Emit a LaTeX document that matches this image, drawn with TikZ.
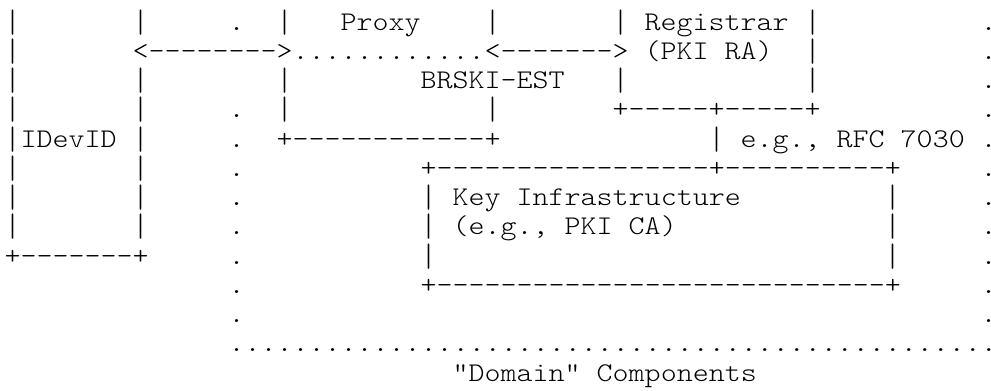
\documentclass[tikz,border=0pt]{standalone}
\usepackage{graphicx}
\usepackage{fontspec}
\setmonofont{lmmonolt10-regular.otf}[FakeStretch=1.129]

\newcommand{\vbar}{\raisebox{-1pt}{\scalebox{1}[1.2]{|}}}

\begin{document}
\begin{tikzpicture}[x=8pt,y=-14.625pt,ascii/.style={anchor=base west,inner sep=0pt,outer sep=0pt,font=\ttfamily\fontsize{13.5}{14}\selectfont}]
                        \useasboundingbox (-2.35pt,0.375pt) rectangle (493.15pt,-195.125pt);

                        % pledge
                        \foreach \r in {1,...,8} \node[ascii] (pl\r) at (0,\r) {\vbar};
                        \foreach \r in {1,3,4,5,6,7,8} \node[ascii] (pr\r) at (8,\r) {\vbar};
                        \node[ascii] (pledge) at (1,5) {IDevID};
                        \node[ascii] (plb) at (0,9) {+-------+};

                        % proxy
                        \foreach \r in {1,3,4} \node[ascii] (xl\r) at (17,\r) {\vbar};
                        \foreach \r in {1,4} \node[ascii] (xr\r) at (30,\r) {\vbar};
                        \node[ascii] (proxy) at (21,1) {Proxy};
                        \node[ascii] (xb) at (17,5) {+------------+};

                        % registrar
                        \foreach \r in {1,3} \node[ascii] (rl\r) at (38,\r) {\vbar};
                        \foreach \r in {1,2,3} \node[ascii] (rr\r) at (50,\r) {\vbar};
                        \node[ascii] (reg) at (40,1) {Registrar};
                        \node[ascii] (ra) at (40,2) {(PKI RA)};
                        \node[ascii] (rb) at (38,4) {+-----+-----+};

                        % links
                        \node[ascii] (a1) at (8,2) {<-------->};
                        \node[ascii] (a2) at (18,2) {............};
                        \node[ascii] (a3) at (30,2) {<------->};
                        \node[ascii] (est) at (26,3) {BRSKI-EST};
                        \node[ascii] (cl) at (44,5) {\vbar};
                        \node[ascii] (rfc) at (46,5) {e.g., RFC 7030};

                        % key infrastructure
                        \node[ascii] (kt) at (26,6) {+-----------------+----------+};
                        \foreach \r in {7,8,9} {
                                \node[ascii] (kl\r) at (26,\r) {\vbar};
                                \node[ascii] (kr\r) at (55,\r) {\vbar};
                        }
                        \node[ascii] (key) at (28,7) {Key Infrastructure};
                        \node[ascii] (ca) at (28,8) {(e.g., PKI CA)};
                        \node[ascii] (kb) at (26,10) {+----------------------------+};

                        % domain, last column kept narrow so it stays inside the page
                        \foreach \r in {1,4,5,6,7,8,9,10,11} \node[ascii] (dl\r) at (14,\r) {.};
                        \foreach \r in {1,...,11} \node[ascii] (dr\r) at (61,\r) {\makebox[5pt][l]{.}};
                        \node[ascii] (db) at (14,12) {...............................................\makebox[5pt][l]{.}};
                        \node[ascii] (dom) at (28,13) {"Domain" Components};
                    \end{tikzpicture}
\end{document}
